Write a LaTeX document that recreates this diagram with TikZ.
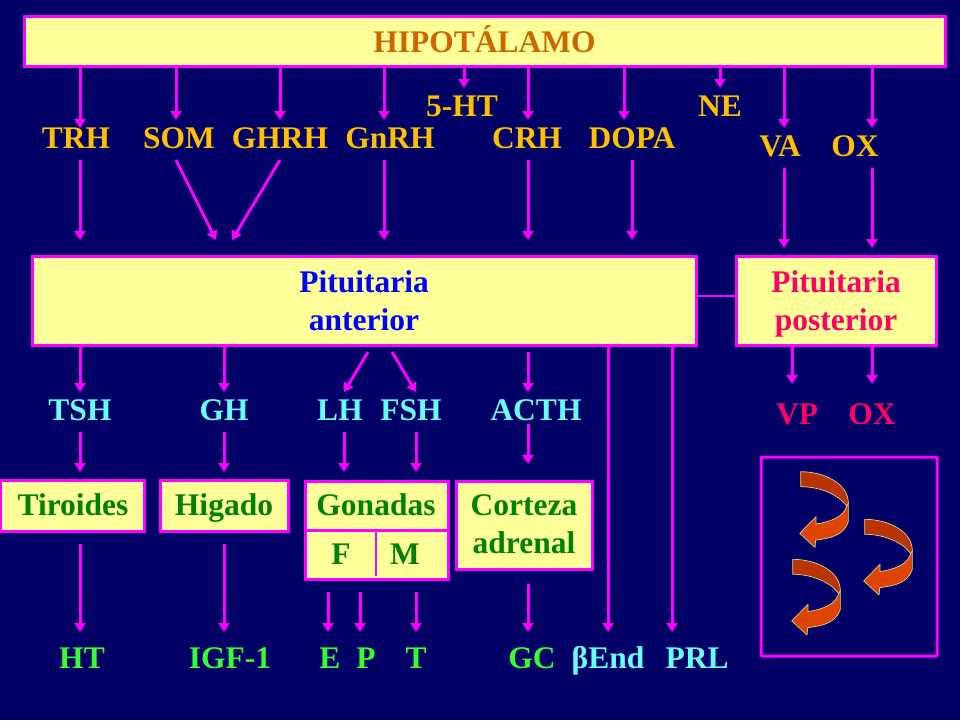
\documentclass[tikz,border=0pt]{standalone}
\usepackage{fontspec}
\setmainfont{Liberation Serif}
\usetikzlibrary{arrows.meta}
\definecolor{bg}{HTML}{000066}
\definecolor{boxfill}{HTML}{FFFF99}
\definecolor{mag}{HTML}{FF00FF}
\definecolor{horm}{HTML}{FFC000}
\definecolor{hipoT}{HTML}{CC6600}
\definecolor{cyanT}{HTML}{66FFFF}
\definecolor{greenT}{HTML}{008000}
\definecolor{limeT}{HTML}{33FF33}
\definecolor{blueT}{HTML}{0000FF}
\definecolor{redT}{HTML}{FF0066}
\definecolor{bandD}{HTML}{B83400}
\definecolor{bandL}{HTML}{DC4400}
\definecolor{bandE}{HTML}{E0D090}
\tikzset{
  arr/.style={draw=mag,line width=3pt,-{Triangle[length=9pt,width=11pt]}},
  link/.style={draw=mag,line width=3pt},
  thinlink/.style={draw=mag,line width=2pt},
  box/.style={draw=mag,fill=boxfill,line width=3pt,inner sep=0pt,outer sep=0pt},
  lbl/.style={font=\fontsize{31.5}{38}\selectfont\bfseries,inner sep=0pt,outer sep=0pt,text height=20pt,text depth=0pt},
  yel/.style={lbl,text=horm},
  cy/.style={lbl,text=cyanT},
  gr/.style={lbl,text=greenT},
  lime/.style={lbl,text=limeT},
  rd/.style={lbl,text=redT},
  bl/.style={lbl,text=blueT},
  pics/curl/.style={code={
    \draw[fill=bandD,draw=bandE,line width=0.7pt] (0,0) .. controls (70,0) and (143,35) .. (143,95)
       -- (138,103) .. controls (115,70) and (60,45) .. (0,45) -- cycle;
    \draw[fill=bandL,draw=bandE,line width=0.7pt] (143,95) -- (143,150) .. controls (130,190) and (90,200) .. (45,205)
       -- (43,227) -- (-3,185) -- (46,135) -- (46,157) .. controls (90,150) and (130,135) .. (138,103) -- cycle;
  }}
}
\begin{document}
\begin{tikzpicture}[x=1pt,y=-1pt]
\useasboundingbox[fill=bg] (0,0) rectangle (960,720);
% boxes
\node[box,minimum width=921pt,minimum height=50pt] (hipo) at (484.5,41.5) {};
\node[box,minimum width=664pt,minimum height=89pt] (pa) at (364,301) {};
\node[box,minimum width=200pt,minimum height=89pt] (pp) at (836.5,301) {};
\node[box,minimum width=144pt,minimum height=51pt] (tir) at (72.5,506) {};
\node[box,minimum width=128pt,minimum height=51pt] (hig) at (224.5,506) {};
\node[box,minimum width=143pt,minimum height=98pt] (gon) at (376.5,530) {};
\node[box,minimum width=136pt,minimum height=88pt] (cor) at (524,525) {};
\node[box,fill=none,rounded corners=1pt,minimum width=176pt,minimum height=199pt] (sys) at (849,556.5) {};
% box texts
\node[lbl,text=hipoT] (hipoT) at (484.5,42) {HIPOTÁLAMO};
\node[bl] (paA) at (364,282) {Pituitaria};
\node[bl] (paB) at (364,320) {anterior};
\node[rd] (ppA) at (836,282) {Pituitaria};
\node[rd] (ppB) at (836,320) {posterior};
\node[gr] (tirT) at (73,505) {Tiroides};
\node[gr] (higT) at (224,505) {Higado};
\node[gr] (gonT) at (376,505) {Gonadas};
\node[gr] (gF) at (341,554) {F};
\node[gr] (gM) at (405,554) {M};
\node[gr] (corA) at (524,505) {Corteza};
\node[gr] (corBt) at (524,543) {adrenal};
\coordinate (gonMidL) at (305,530);
\coordinate (gonV) at (376,530);
\coordinate (gonVb) at (376,576);
\coordinate (linkY) at (716,296);
\draw[link] (gon.west |- gonMidL) -- (gon.east |- gonMidL);
\draw[thinlink] (gonV) -- (gonVb);
\draw[thinlink] (pa.east |- linkY) -- (pp.west |- linkY);
% labels
\node[yel] (ht5) at (462,106) {5-HT};
\node[yel] (ne) at (720,106) {NE};
\node[yel] (trh) at (76,138) {TRH};
\node[yel] (som) at (179,138) {SOM};
\node[yel] (ghrh) at (280,138) {GHRH};
\node[yel] (gnrh) at (390,138) {GnRH};
\node[yel] (crh) at (527,138) {CRH};
\node[yel] (dopa) at (632,138) {DOPA};
\node[yel] (va) at (780,146) {VA};
\node[yel] (oxa) at (855,146) {OX};
\node[cy] (tsh) at (80,410) {TSH};
\node[cy] (gh) at (224,410) {GH};
\node[cy] (lh) at (340,410) {LH};
\node[cy] (fsh) at (411,410) {FSH};
\node[cy] (acth) at (536,410) {ACTH};
\node[rd] (vp) at (797,414) {VP};
\node[rd] (oxb) at (872,414) {OX};
\node[lime] (ht) at (82,658) {HT};
\node[lime] (igf) at (230,658) {IGF-1};
\node[lime] (e) at (330,658) {E};
\node[lime] (p) at (366,658) {P};
\node[lime] (t) at (416,658) {T};
\node[lime] (gc) at (532,658) {GC};
\node[cy] (bend) at (608,658) {βEnd};
\node[cy] (prl) at (697,658) {PRL};
% arrow anchors
\foreach \n/\x/\y in {trhI/80/128,somI/176/120,ghrhI/280/120,gnrhI/384/120,htI/464/88,crhI/528/120,dopaI/624/120,neI/720/88,vaI/784/128,oxI/872/128,
  trhO/80/160,somO/176/160,ghrhO/280/160,gnrhO/384/160,crhO/528/160,dopaO/632/160,vaO/784/168,oxO/872/168,
  paT/80/240,paSom/216/240,paGh/232/240,paGn/384/240,paCr/528/240,paDo/632/240,ppVa/784/248,ppOx/872/248,
  tshI/80/392,ghI/224/392,lhS/368/352,lhI/344/392,fshS/392/352,fshI/416/392,acthS/528/352,acthI/528/392,
  vpI/792/384,oxbI/872/384,
  tshO/80/432,ghO/224/432,lhO/344/432,fshO/416/432,acthO/528/424,
  tirA/80/472,higA/224/472,gonA/344/472,gonB/416/472,corAr/528/464,
  tirB/80/544,higB/224/544,gE/328/592,gP/360/592,gT/416/592,corB/528/584,
  htE/80/632,igfE/224/632,eE/328/632,pE/360/632,tE/416/632,gcE/528/632,bE/608/632,prE/672/632}
  {\coordinate (\n) at (\x,\y);}
% hypothalamus to hormones
\foreach \n in {trhI,somI,ghrhI,gnrhI,htI,crhI,dopaI,neI,vaI,oxI}
  \draw[arr] (hipo.south -| \n) -- (\n);
% hormones to pituitary
\draw[arr] (trhO) -- (paT);
\draw[arr] (somO) -- (paSom);
\draw[arr] (ghrhO) -- (paGh);
\draw[arr] (gnrhO) -- (paGn);
\draw[arr] (crhO) -- (paCr);
\draw[arr] (dopaO) -- (paDo);
\draw[arr] (vaO) -- (ppVa);
\draw[arr] (oxO) -- (ppOx);
% pituitary to hormones
\draw[arr] (pa.south -| tshI) -- (tshI);
\draw[arr] (pa.south -| ghI) -- (ghI);
\draw[arr] (lhS) -- (lhI);
\draw[arr] (fshS) -- (fshI);
\draw[arr] (acthS) -- (acthI);
\draw[arr] (pa.south -| bE) -- (bE);
\draw[arr] (pa.south -| prE) -- (prE);
\draw[arr] (pp.south -| vpI) -- (vpI);
\draw[arr] (pp.south -| oxbI) -- (oxbI);
% hormones to glands
\draw[arr] (tshO) -- (tirA);
\draw[arr] (ghO) -- (higA);
\draw[arr] (lhO) -- (gonA);
\draw[arr] (fshO) -- (gonB);
\draw[arr] (acthO) -- (corAr);
% glands to products
\draw[arr] (tirB) -- (htE);
\draw[arr] (higB) -- (igfE);
\draw[arr] (gE) -- (eE);
\draw[arr] (gP) -- (pE);
\draw[arr] (gT) -- (tE);
\draw[arr] (corB) -- (gcE);
% curled arrows
\pic[scale=0.3333] at (800.7,471.7) {curl};
\pic[scale=0.3333] at (864.7,519.3) {curl};
\pic[scale=0.3333] at (792.7,559.3) {curl};
\end{tikzpicture}
\end{document}
